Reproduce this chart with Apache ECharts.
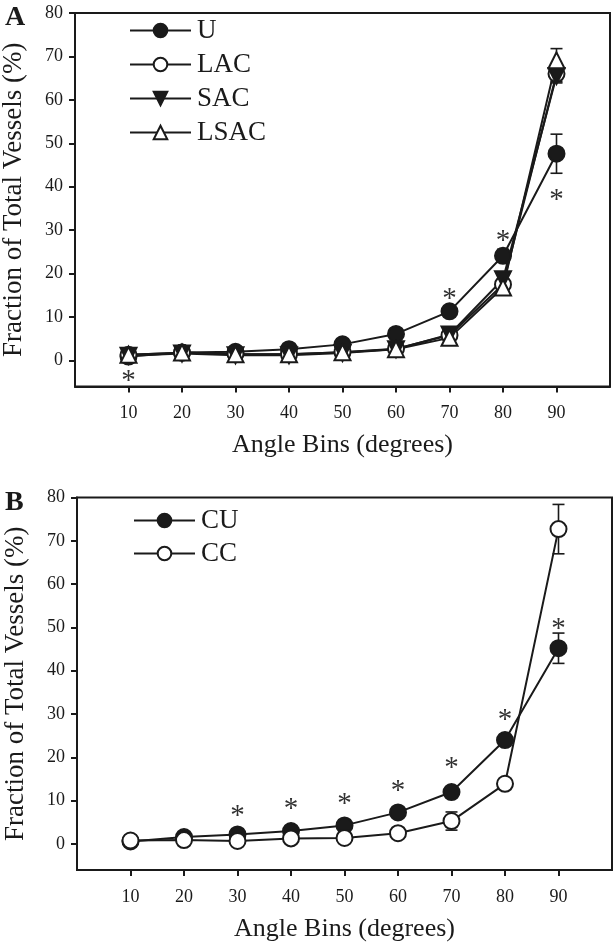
<!DOCTYPE html>
<html>
<head>
<meta charset="utf-8">
<script src="https://cdn.jsdelivr.net/npm/echarts@6/dist/echarts.min.js"></script>
<style>html,body{margin:0;padding:0;background:#fff;}#c{width:614px;height:948px;}</style>
</head>
<body>
<div id="c"></div>
<script>
// ---- data ----
const bins = [10, 20, 30, 40, 50, 60, 70, 80, 90];
const xTicks = [10, 20, 30, 40, 50, 60, 70, 80, 90];
const yTicks = [0, 10, 20, 30, 40, 50, 60, 70, 80];

// Panel A
const uA    = [0.9, 1.8, 2.0, 2.6, 3.7, 6.1, 11.3, 24.1, 47.6];
const lacA  = [1.3, 1.8, 1.5, 1.4, 1.9, 2.7, 5.8, 17.5, 66.0];
const sacA  = [1.1, 1.6, 1.2, 1.2, 1.7, 2.6, 6.0, 18.7, 65.5];
const lsacA = [1.3, 1.8, 1.4, 1.4, 1.9, 2.6, 5.2, 16.8, 69.1];
const uAErr    = [0.3, 0.3, 0.3, 0.4, 0.5, 0.7, 1.2, 1.5, 4.5];
const lacAErr  = [0.2, 0.3, 0.2, 0.3, 0.3, 0.4, 0.8, 1.2, 1.8];
const sacAErr  = [0.2, 0.3, 0.2, 0.3, 0.3, 0.4, 0.8, 1.2, 1.6];
const lsacAErr = [0.2, 0.3, 0.2, 0.3, 0.3, 0.4, 0.8, 1.2, 2.7];
const starsA = [[10, -3.6], [70, 15.2], [80, 28.5], [90, 38.0]];

// Panel B
const cuB = [0.6, 1.6, 2.2, 3.0, 4.3, 7.3, 12.0, 24.0, 45.2];
const ccB = [0.8, 0.9, 0.7, 1.3, 1.4, 2.5, 5.3, 13.9, 72.7];
const cuBErr = [0.3, 0.3, 0.4, 0.4, 0.5, 0.7, 1.0, 1.3, 3.5];
const ccBErr = [0.2, 0.3, 0.2, 0.3, 0.4, 0.5, 2.1, 1.0, 5.7];
const starsB = [[30, 7.6], [40, 9.1], [50, 10.3], [60, 13.4], [70, 18.6], [80, 29.6], [90, 50.6]];

// ---- helpers ----
const FONT = 'Liberation Serif';
const INK = '#1a1a1a';

function pairs(vals) { return bins.map((b, i) => [b, vals[i]]); }
function triples(vals, errs) { return bins.map((b, i) => [b, vals[i], errs[i]]); }

function errSeries(vals, errs, gi) {
  return {
    type: 'custom', xAxisIndex: gi, yAxisIndex: gi, z: 1, silent: true,
    data: triples(vals, errs),
    renderItem: function (params, api) {
      const x = api.value(0), y = api.value(1), e = api.value(2);
      const t = api.coord([x, y + e]), b = api.coord([x, y - e]);
      const h = 6;
      const st = { stroke: INK, lineWidth: 1.6 };
      return { type: 'group', children: [
        { type: 'line', shape: { x1: t[0], y1: t[1], x2: b[0], y2: b[1] }, style: st },
        { type: 'line', shape: { x1: t[0] - h, y1: t[1], x2: t[0] + h, y2: t[1] }, style: st },
        { type: 'line', shape: { x1: b[0] - h, y1: b[1], x2: b[0] + h, y2: b[1] }, style: st }
      ]};
    }
  };
}

function starSeries(pts, gi) {
  return {
    type: 'custom', xAxisIndex: gi, yAxisIndex: gi, z: 5, silent: true,
    data: pts,
    renderItem: function (params, api) {
      const p = api.coord([api.value(0), api.value(1)]);
      return { type: 'text', x: p[0], y: p[1] + 5,
        style: { text: '*', font: '29px "Liberation Serif"', fill: '#333', align: 'center', verticalAlign: 'middle' } };
    }
  };
}

function lineSeries(name, vals, gi, symbol, filled) {
  return {
    name: name, type: 'line', xAxisIndex: gi, yAxisIndex: gi, z: 3,
    data: pairs(vals),
    symbol: symbol, symbolSize: 16, showAllSymbol: true,
    lineStyle: { color: INK, width: 2 },
    itemStyle: { color: filled ? INK : '#fff', borderColor: INK, borderWidth: 2 },
    emphasis: { disabled: true }
  };
}

const TRI_DOWN = 'path://M0,0 L20,0 L10,18 Z';
const TRI_UP = 'path://M10,0 L20,18 L0,18 Z';

function xAxisCfg(gi) {
  return {
    gridIndex: gi, type: 'value', min: 0, max: 100,
    name: 'Angle Bins (degrees)', nameLocation: 'middle', nameGap: 46,
    nameTextStyle: { fontFamily: FONT, fontSize: 26, color: INK },
    axisLine: { show: true, onZero: false, lineStyle: { color: INK, width: 2 } },
    axisTick: { show: true, length: 6, customValues: xTicks, lineStyle: { color: INK, width: 2 } },
    axisLabel: { customValues: xTicks, margin: 18, fontFamily: FONT, fontSize: 18, color: INK },
    splitLine: { show: false }
  };
}
function yAxisCfg(gi) {
  return {
    gridIndex: gi, type: 'value', min: -6, max: 80,
    name: 'Fraction of Total Vessels (%)', nameLocation: 'middle', nameGap: 48,
    nameTextStyle: { fontFamily: FONT, fontSize: 27, color: INK },
    axisLine: { show: true, onZero: false, lineStyle: { color: INK, width: 2 } },
    axisTick: { show: true, length: 6, customValues: yTicks, lineStyle: { color: INK, width: 2 } },
    axisLabel: { customValues: yTicks, margin: 12, fontFamily: FONT, fontSize: 18, color: INK },
    splitLine: { show: false }
  };
}

const legendText = { fontFamily: FONT, fontSize: 27, color: INK, lineHeight: 26, padding: [0, 0, 0, 1] };

const option = {
  animation: false,
  backgroundColor: '#fff',
  grid: [
    { left: 75, top: 13, width: 535, height: 373.5, show: true, borderColor: INK, borderWidth: 2,
      containLabel: false, outerBoundsMode: 'none' },
    { left: 77, top: 497.5, width: 535, height: 372.5, show: true, borderColor: INK, borderWidth: 2,
      containLabel: false, outerBoundsMode: 'none' }
  ],
  xAxis: [xAxisCfg(0), xAxisCfg(1)],
  yAxis: [yAxisCfg(0), yAxisCfg(1)],
  legend: [
    { data: ['U', 'LAC', 'SAC', 'LSAC'], orient: 'vertical', left: 124, top: 12, itemWidth: 61, itemHeight: 17, itemGap: 7,
      textStyle: legendText, selectedMode: false },
    { data: ['CU', 'CC'], orient: 'vertical', left: 128, top: 502, itemWidth: 61, itemHeight: 17, itemGap: 6,
      textStyle: legendText, selectedMode: false }
  ],
  graphic: [
    { type: 'text', left: 5, top: 4, style: { text: 'A', font: 'bold 28px "Liberation Serif"', fill: INK } },
    { type: 'text', left: 5, top: 489, style: { text: 'B', font: 'bold 28px "Liberation Serif"', fill: INK } }
  ],
  series: [
    errSeries(uA, uAErr, 0), errSeries(lacA, lacAErr, 0), errSeries(sacA, sacAErr, 0), errSeries(lsacA, lsacAErr, 0),
    lineSeries('U', uA, 0, 'circle', true),
    lineSeries('LAC', lacA, 0, 'circle', false),
    lineSeries('SAC', sacA, 0, TRI_DOWN, true),
    lineSeries('LSAC', lsacA, 0, TRI_UP, false),
    starSeries(starsA, 0),
    errSeries(cuB, cuBErr, 1), errSeries(ccB, ccBErr, 1),
    lineSeries('CU', cuB, 1, 'circle', true),
    lineSeries('CC', ccB, 1, 'circle', false),
    starSeries(starsB, 1)
  ]
};

const chart = echarts.init(document.getElementById('c'), null, { renderer: 'canvas' });
chart.setOption(option);
</script>
</body>
</html>
